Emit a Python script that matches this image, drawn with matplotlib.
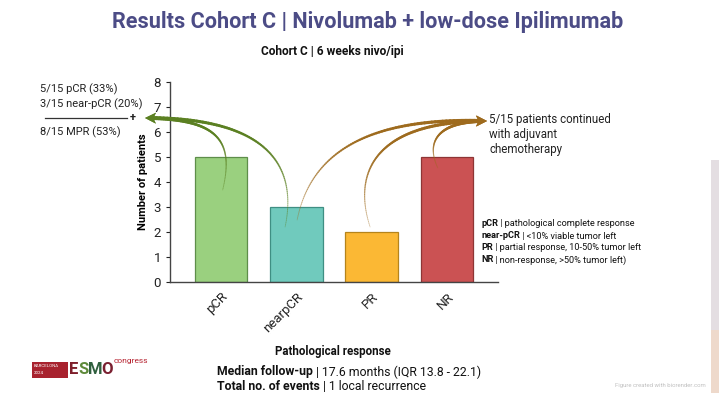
import numpy as np
import matplotlib
matplotlib.use("Agg")
import matplotlib.pyplot as plt
from matplotlib.collections import LineCollection
from matplotlib.patches import Polygon, Rectangle
from matplotlib import font_manager

# ---------------- data ----------------
categories = ["pCR", "nearpCR", "PR", "NR"]
patients = [5, 3, 2, 5]
bar_colors = ["#9AD07F", "#70CABD", "#FBB834", "#CB5253"]
edge_colors = ["#5E8E4A", "#3F8F83", "#B5841C", "#8E3535"]
y_ticks = [0, 1, 2, 3, 4, 5, 6, 7, 8]

title = "Results Cohort C | Nivolumab + low-dose Ipilimumab"
subtitle = "Cohort C | 6 weeks nivo/ipi"
x_label = "Pathological response"
y_label = "Number of patients"
left_lines = ["5/15 pCR (33%)", "3/15 near-pCR (20%)", "8/15 MPR (53%)"]
right_lines = ["5/15 patients continued", "with adjuvant", "chemotherapy"]
legend_lines = [("pCR", " | pathological complete response"),
                ("near-pCR", " | <10% viable tumor left"),
                ("PR", " | partial response, 10-50% tumor left"),
                ("NR", " | non-response, >50% tumor left)")]
bottom_lines = [("Median follow-up", " | 17.6 months (IQR 13.8 - 22.1)"),
                ("Total no. of events", " | 1 local recurrence")]

W, H = 719, 393
plt.rcParams['font.family'] = ['Roboto', 'DejaVu Sans']
fig = plt.figure(figsize=(W / 100, H / 100), dpi=100)
fig.patch.set_facecolor("white")

names = {f.name for f in font_manager.fontManager.ttflist}
title_family = ['Liberation Sans Narrow', 'Roboto'] if 'Liberation Sans Narrow' in names else ['Roboto']

# ---------------- main axes ----------------
ax = fig.add_axes([170 / W, 1 - 282 / H, (498 - 170) / W, (282 - 82) / H])
x = np.arange(len(categories))
ax.bar(x, patients, width=0.7, color=bar_colors, edgecolor=edge_colors, linewidth=0.9, zorder=2)
ax.set_xlim(-0.68, 3.68)
ax.set_ylim(0, 8)
ax.set_yticks(y_ticks)
ax.set_xticks(x)
ax.set_xticklabels(categories, rotation=45, ha="right", rotation_mode="anchor", fontsize=9.5)
ax.tick_params(axis="y", labelsize=9.5, length=3, width=0.8, colors="#222222")
ax.tick_params(axis="x", length=0, pad=6, colors="#222222")
for s in ["top", "right"]:
    ax.spines[s].set_visible(False)
for s in ["left", "bottom"]:
    ax.spines[s].set_color("#444444")
    ax.spines[s].set_linewidth(1.0)
ax.set_ylabel(y_label, fontsize=8, fontweight="bold", labelpad=4)

# ---------------- overlay in pixel coordinates ----------------
ov = fig.add_axes([0, 0, 1, 1], zorder=5)
ov.set_xlim(0, W)
ov.set_ylim(H, 0)
ov.axis("off")
ov.patch.set_alpha(0)

renderer = fig.canvas.get_renderer()


def rich(xp, yp, parts, size, color="#111111"):
    cur = xp
    for txt, wt in parts:
        t = ov.text(cur, yp, txt, fontsize=size, fontweight=wt, color=color, va="center", ha="left")
        bb = t.get_window_extent(renderer)
        cur += bb.width


def data_px(xd, yd):
    dx, dy = ax.transData.transform((xd, yd))
    return dx, H - dy


def bezier(p0, p1, p2, p3, n=90):
    t = np.linspace(0, 1, n)[:, None]
    p0, p1, p2, p3 = map(np.array, (p0, p1, p2, p3))
    return (1 - t) ** 3 * p0 + 3 * (1 - t) ** 2 * t * p1 + 3 * (1 - t) * t ** 2 * p2 + t ** 3 * p3


def taper_arrow(p0, p1, p2, p3, color, lw0=0.6, lw1=2.6, head_len=11, head_w=5.5):
    pts = bezier(p0, p1, p2, p3)
    d = pts[-1] - pts[-4]
    d = d / np.linalg.norm(d)
    end = pts[-1] - d * head_len * 0.8
    keep = np.linalg.norm(pts - pts[-1], axis=1) > head_len * 0.8
    pts2 = np.vstack([pts[keep], end])
    segs = np.stack([pts2[:-1], pts2[1:]], axis=1)
    n = len(segs)
    f = np.linspace(0, 1, n)
    lws = lw0 + (lw1 - lw0) * f ** 1.3
    rgba = np.array([matplotlib.colors.to_rgba(color)] * n)
    rgba[:, 3] = np.clip(0.3 + 1.1 * f, 0, 1)
    lc = LineCollection(segs, linewidths=lws, colors=rgba, capstyle="round")
    ov.add_collection(lc)
    tip = pts[-1]
    perp = np.array([-d[1], d[0]])
    base = tip - d * head_len
    ov.add_patch(Polygon([tip, base + perp * head_w, tip - d * head_len * 0.75, base - perp * head_w],
                         closed=True, color=color, lw=0))


green = "#5B8022"
brown = "#9E6B1E"
head_g = (145, 118)
head_b = (487, 121)

t0 = data_px(0.02, 3.68)
taper_arrow(t0, (t0[0] + 12, 140), (t0[0] - 5, 119), head_g, green)
t1 = data_px(0.85, 2.2)
taper_arrow(t1, (t1[0] + 14, 160), (t1[0] - 25, 117), head_g, green)

t2 = data_px(1.01, 2.48)
taper_arrow(t2, (t2[0] + 12, 160), (t2[0] + 60, 116), head_b, brown)
t3 = data_px(1.98, 2.2)
taper_arrow(t3, (t3[0] - 18, 172), (t3[0] + 5, 121), head_b, brown)
t4 = data_px(2.88, 4.56)
taper_arrow(t4, (t4[0] - 14, 138), (t4[0] + 5, 121), head_b, brown)

# ---------------- texts ----------------
ov.text(368, 22, title, fontsize=15.6, color="#4C4C86", ha="center", va="center",
        fontweight="bold", family=title_family)
ov.text(332, 51, subtitle, fontsize=8.6, fontweight="bold", color="#111111", ha="center", va="center")
ov.text(333, 352, x_label, fontsize=8.3, fontweight="bold", color="#111111", ha="center", va="center")

ov.text(40, 89, left_lines[0], fontsize=8, color="#222222", va="center")
ov.text(40, 104, left_lines[1], fontsize=8, color="#222222", va="center")
ov.plot([45, 127], [118, 118], color="#333333", lw=0.9)
ov.text(133, 118, "+", fontsize=8, color="#222222", va="center", ha="center", fontweight="bold")
ov.text(40, 132, left_lines[2], fontsize=8, color="#222222", va="center")

for i, ln in enumerate(right_lines):
    ov.text(489, 120 + i * 14.5, ln, fontsize=8.3, color="#222222", va="center")

for i, (b, r) in enumerate(legend_lines):
    rich(481, 224 + i * 12, [(b, "bold"), (r, "normal")], 6.6)

for i, (b, r) in enumerate(bottom_lines):
    rich(217, 372 + i * 14, [(b, "bold"), (r, "normal")], 8.8)

# ESMO logo
ov.add_patch(Rectangle((32, 362), 36, 16, color="#A8222E", lw=0))
ov.text(34, 366, "BARCELONA", fontsize=3.2, color="white", va="center")
ov.text(34, 373, "2024", fontsize=3.2, color="white", va="center")
esmo_cols = ["#7E1F2B", "#5E8A3A", "#2F5F3E", "#7A2030"]
cx = 69
for ch, c in zip("ESMO", esmo_cols):
    t = ov.text(cx, 370, ch, fontsize=12, fontweight="bold", color=c, va="center", ha="left",
                family=title_family)
    cx += t.get_window_extent(renderer).width * 0.95
ov.text(cx + 1, 361, "congress", fontsize=6, color="#B5202E", va="center", family=title_family)

ov.text(706, 386, "Figure created with biorender.com", fontsize=4.3, color="#C0C0C0", ha="right", va="center")

# right-edge background strip
ov.add_patch(Rectangle((711, 160), 8, 170, color="#E4DEE2", lw=0))
ov.add_patch(Rectangle((711, 330), 8, 63, color="#EED9CB", lw=0))

fig.savefig("out.png", dpi=100)
